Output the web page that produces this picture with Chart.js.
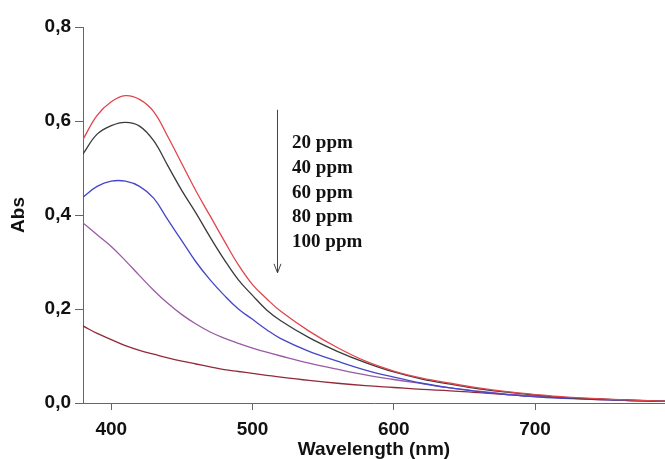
<!DOCTYPE html>
<html>
<head>
<meta charset="utf-8">
<script src="https://cdn.jsdelivr.net/npm/chart.js@4/dist/chart.umd.min.js"></script>
<style>
  html, body { margin:0; padding:0; background:#fff; }
  #wrap { width:665px; height:459px; }
</style>
</head>
<body>
<div id="wrap"><canvas id="grafico" width="665" height="459"></canvas></div>
<script>
// ===============================
// DADOS
// ===============================

const comprimentos = [380,390,400,410,420,430,440,450,460,470,480,490,500,510,520,540,560,580,600,620,640,660,680,700,720,740,760,780,800];

const abs20  = [0.561,0.612,0.641,0.654,0.646,0.620,0.567,0.509,0.451,0.398,0.345,0.294,0.252,0.222,0.195,0.153,0.118,0.089,0.068,0.053,0.042,0.032,0.024,0.018,0.013,0.010,0.007,0.005,0.003];
const abs40  = [0.530,0.572,0.590,0.597,0.589,0.558,0.505,0.452,0.404,0.353,0.305,0.262,0.229,0.198,0.175,0.139,0.110,0.086,0.066,0.051,0.040,0.030,0.023,0.017,0.012,0.009,0.007,0.005,0.003];
const abs60  = [0.438,0.461,0.472,0.472,0.461,0.436,0.390,0.345,0.300,0.262,0.229,0.200,0.178,0.156,0.137,0.110,0.089,0.070,0.055,0.042,0.032,0.024,0.018,0.013,0.010,0.008,0.006,0.004,0.003];
const abs80  = [0.383,0.358,0.333,0.303,0.271,0.240,0.212,0.188,0.168,0.151,0.138,0.127,0.117,0.108,0.100,0.085,0.072,0.060,0.050,0.041,0.032,0.025,0.019,0.014,0.011,0.008,0.006,0.004,0.003];
const abs100 = [0.164,0.148,0.135,0.122,0.112,0.104,0.096,0.089,0.083,0.077,0.071,0.067,0.063,0.059,0.055,0.048,0.042,0.037,0.033,0.029,0.026,0.022,0.018,0.014,0.011,0.008,0.006,0.004,0.003];

const rotulos = ["20 ppm","40 ppm","60 ppm","80 ppm","100 ppm"];
const cores = ["#e0464c","#3a3a3a","#4646c8","#9a5aa6","#922a3a"];

const ticksX = [400,500,600,700];
const ticksY = [0,0.2,0.4,0.6,0.8];

// posição da anotação (em unidades dos eixos)
const setaX = 517;
const setaTopo = 0.624;
const setaBase = 0.277;
const textoX = 528;
const textoY = [0.554,0.499,0.447,0.396,0.342];

// ===============================
// ANOTAÇÃO (seta + concentrações)
// ===============================

const anotacao = {
  id:"anotacao",
  afterDatasetsDraw(chart){
    const ctx = chart.ctx;
    const x = chart.scales.x;
    const y = chart.scales.y;

    const px = Math.round(x.getPixelForValue(setaX)) + 0.5;
    const y1 = y.getPixelForValue(setaTopo);
    const y2 = y.getPixelForValue(setaBase);

    ctx.save();
    ctx.strokeStyle = "#444";
    ctx.lineWidth = 1;
    ctx.beginPath();
    ctx.moveTo(px, y1);
    ctx.lineTo(px, y2);
    ctx.moveTo(px - 3.5, y2 - 9);
    ctx.lineTo(px, y2);
    ctx.lineTo(px + 3.5, y2 - 9);
    ctx.stroke();

    ctx.fillStyle = "#111";
    ctx.font = 'bold 19px "Liberation Serif", "Times New Roman", serif';
    ctx.textAlign = "left";
    ctx.textBaseline = "middle";
    rotulos.forEach((txt, i)=>{
      ctx.fillText(txt, x.getPixelForValue(textoX), y.getPixelForValue(textoY[i]));
    });
    ctx.restore();
  }
};

// ===============================
// GRÁFICO
// ===============================

const datasets = [abs20, abs40, abs60, abs80, abs100].map((serie, i)=>({
  label: rotulos[i],
  data: comprimentos.map((c, j)=>({ x:c, y:serie[j] })),
  borderColor: cores[i],
  borderWidth: 1.3,
  pointRadius: 0,
  tension: 0.4,
  fill: false
}));

const fonteEixo = { family:'"Liberation Sans", Arial, sans-serif', size:19, weight:"bold" };

new Chart(document.getElementById("grafico").getContext("2d"),{
  type:"line",
  data:{ datasets },
  options:{
    responsive:false,
    animation:false,
    layout:{ padding:{ top:27, right:0, bottom:0, left:0 } },
    plugins:{ legend:{ display:false }, tooltip:{ enabled:false } },
    scales:{
      x:{
        type:"linear",
        min:380,
        max:792,
        afterBuildTicks: s => { s.ticks = ticksX.map(v => ({ value:v })); },
        afterFit: s => { s.height = 56; },
        border:{ display:true, color:"#666", width:1 },
        grid:{ display:true, drawOnChartArea:false, drawTicks:true, tickLength:7, color:"#666" },
        ticks:{ color:"#111", font:fonteEixo, padding:8, maxRotation:0 },
        title:{ display:true, text:"Wavelength (nm)", color:"#111",
                font:{ family:'"Liberation Sans", Arial, sans-serif', size:19, weight:"bold", lineHeight:1 },
                padding:0 }
      },
      y:{
        min:0,
        max:0.8,
        afterBuildTicks: s => { s.ticks = ticksY.map(v => ({ value:v })); },
        afterFit: s => { s.width = 83; },
        border:{ display:true, color:"#666", width:1 },
        grid:{ display:true, drawOnChartArea:false, drawTicks:true, tickLength:8, color:"#666" },
        ticks:{ color:"#111", font:fonteEixo, padding:4,
                callback: v => v.toFixed(1).replace(".", ",") },
        title:{ display:true, text:"Abs", color:"#111",
                font:{ family:'"Liberation Sans", Arial, sans-serif', size:19, weight:"bold", lineHeight:1 },
                padding:{ top:9, bottom:0 } }
      }
    }
  },
  plugins:[anotacao]
});
</script>
</body>
</html>
